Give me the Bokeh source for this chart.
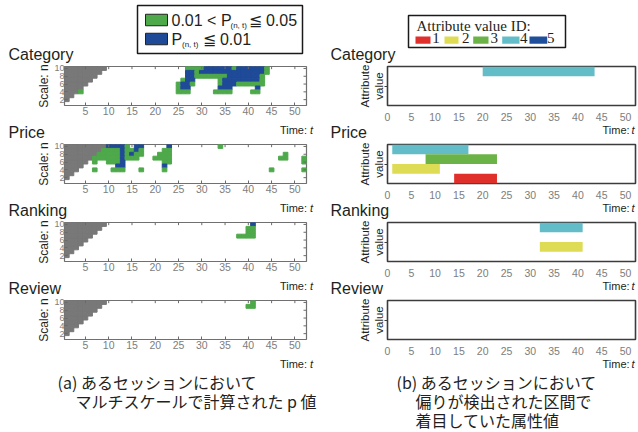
from bokeh.plotting import figure
from bokeh.models import Range1d, FixedTicker, LinearAxis, ColumnDataSource
from bokeh.layouts import column, row
from bokeh.embed import file_html
from bokeh.resources import INLINE
from bokeh.core.properties import value

# ---------------- data ----------------
PANELS = ["Category", "Price", "Ranking", "Review"]
SCALES = [1, 2, 3, 4, 5, 6, 7, 8, 9, 10]
GRAY_COLS = [0, 1, 2, 3, 4, 5, 6, 7, 8, 9]   # undefined windows (t < n) per scale n

# significant windows: (scale n, t from, t to, level)  level 1: 0.01<P<=0.05, level 2: P<=0.01
CATEGORY_RUNS = [
    (10, 27, 30, 1), (10, 31, 36, 2), (10, 37, 37, 1), (10, 38, 43, 2), (10, 44, 44, 1),
    (9, 27, 28, 2), (9, 29, 29, 1), (9, 30, 43, 2), (9, 44, 44, 1),
    (8, 27, 28, 2), (8, 29, 35, 1), (8, 36, 42, 2), (8, 43, 43, 1),
    (7, 26, 26, 1), (7, 27, 28, 2), (7, 34, 34, 1), (7, 35, 42, 2), (7, 43, 43, 1),
    (6, 25, 25, 1), (6, 26, 27, 2), (6, 28, 28, 1), (6, 34, 34, 1), (6, 35, 37, 2), (6, 38, 43, 1),
    (5, 25, 25, 1), (5, 26, 27, 2), (5, 34, 36, 2), (5, 42, 42, 2),
    (4, 4, 4, 1), (4, 25, 27, 1), (4, 33, 36, 1), (4, 41, 42, 1),
]
PRICE_RUNS = [
    (10, 10, 13, 2), (10, 14, 14, 1), (10, 16, 17, 2), (10, 23, 23, 2), (10, 34, 34, 1),
    (9, 9, 12, 1), (9, 13, 13, 2), (9, 14, 15, 1), (9, 16, 16, 2), (9, 17, 17, 1), (9, 22, 23, 1),
    (8, 8, 12, 1), (8, 13, 13, 2), (8, 14, 14, 1), (8, 15, 15, 2), (8, 16, 17, 1), (8, 21, 23, 1), (8, 48, 48, 1),
    (7, 7, 12, 1), (7, 13, 13, 2), (7, 14, 16, 1), (7, 20, 23, 1), (7, 47, 48, 1), (7, 52, 52, 1),
    (6, 7, 7, 1), (6, 10, 12, 1), (6, 13, 13, 2), (6, 22, 23, 1), (6, 52, 52, 1),
    (5, 12, 13, 2), (5, 22, 22, 2),
    (4, 7, 7, 1), (4, 11, 13, 1), (4, 17, 17, 1), (4, 22, 22, 1), (4, 45, 45, 1), (4, 52, 52, 1),
]
RANKING_RUNS = [(10, 41, 41, 2), (9, 40, 41, 1), (8, 40, 41, 1), (7, 38, 41, 1)]
REVIEW_RUNS = [(10, 41, 41, 1), (9, 40, 41, 1)]
RUNS = [CATEGORY_RUNS, PRICE_RUNS, RANKING_RUNS, REVIEW_RUNS]

# attribute value intervals: (attribute value ID, t start, t end)
CATEGORY_BARS = [(4, 20, 43.5)]
PRICE_BARS = [(4, 1, 17), (3, 8, 23), (2, 1, 11), (1, 14, 23)]
RANKING_BARS = [(4, 32, 41), (2, 32, 41)]
REVIEW_BARS = []
BARS = [CATEGORY_BARS, PRICE_BARS, RANKING_BARS, REVIEW_BARS]

ATTR_IDS = [1, 2, 3, 4, 5]
X_TICKS_LEFT = [5, 10, 15, 20, 25, 30, 35, 40, 45, 50]
Y_TICKS_LEFT = [2, 4, 6, 8, 10]
X_TICKS_RIGHT = [0, 5, 10, 15, 20, 25, 30, 35, 40, 45, 50]
SIG_LEGEND = [("0.01 < P", "(n, t)", "≦ 0.05"), ("P", "(n, t)", "≦ 0.01")]
CAPTION_A = ["(a) あるセッションにおいて", "マルチスケールで計算された p 値"]
CAPTION_B = ["(b) あるセッションにおいて", "偏りが検出された区間で", "着目していた属性値"]

# ---------------- style ----------------
GREEN = "#4ea94a"
BLUE = "#1f4a98"
GRAY = "#787878"
ATTR_COLORS = {1: "#e0302c", 2: "#dedb55", 3: "#6cb347", 4: "#63bdc8", 5: "#1f4e9b"}
TXT = "#231f20"
TICK_TXT = "#7d7d7d"
SANS = "Liberation Sans"
SERIF = "Liberation Serif"
CJK = "Noto Sans CJK JP"

PANEL_H = 60        # 3 px top border, 44 px frame, 13 px bottom border
LX = (0.5, 52.5)
LY = (0.5, 10.5)
RX = (0, 52.1)
RY = (0, 4)


def canvas_fig(w, h):
    p = figure(width=w, height=h, x_range=Range1d(0, w), y_range=Range1d(h, 0),
               output_backend="svg", toolbar_location=None, x_axis_type=None, y_axis_type=None,
               min_border=0)
    p.outline_line_color = None
    p.background_fill_color = "white"
    p.border_fill_color = "white"
    return p


def panel_fig(xr, yr, bl, br):
    p = figure(width=319, height=PANEL_H, x_range=Range1d(*xr), y_range=Range1d(*yr),
               output_backend="svg", toolbar_location=None,
               x_axis_type=None, y_axis_type=None,
               min_border_left=bl, min_border_right=br, min_border_top=3, min_border_bottom=13)
    p.background_fill_color = "white"
    p.border_fill_color = "white"
    return p


def make_left(i):
    p = panel_fig(LX, LY, 64, 13)
    p.outline_line_color = "#707070"
    p.outline_line_width = 1.2

    xs, ys, cs = [], [], []
    for n, g in zip(SCALES, GRAY_COLS):
        for t in range(1, g + 1):
            xs.append(t); ys.append(n); cs.append(GRAY)
    for n, t0, t1, lev in RUNS[i]:
        for t in range(t0, t1 + 1):
            xs.append(t); ys.append(n); cs.append(GREEN if lev == 1 else BLUE)
    src = ColumnDataSource(dict(x=xs, y=ys, c=cs))
    p.rect(x="x", y="y", width=1, height=1, fill_color="c", line_color="c", line_width=1, source=src)

    # inward ticks on the top and right frame edges
    tl_x = 3 * (LX[1] - LX[0]) / 242
    tl_y = 3 * (LY[1] - LY[0]) / 44
    p.segment(x0=X_TICKS_LEFT, y0=[LY[1]] * len(X_TICKS_LEFT), x1=X_TICKS_LEFT,
              y1=[LY[1] - tl_y] * len(X_TICKS_LEFT), line_color="#6a6a6a", line_width=1)
    p.segment(x0=[LX[1]] * len(Y_TICKS_LEFT), y0=Y_TICKS_LEFT, x1=[LX[1] - tl_x] * len(Y_TICKS_LEFT),
              y1=Y_TICKS_LEFT, line_color="#6a6a6a", line_width=1)

    common = dict(minor_tick_line_color=None, axis_line_color=None,
                  major_tick_line_color="#6a6a6a", major_tick_in=3, major_tick_out=0,
                  major_label_text_color=TICK_TXT, major_label_text_font=SANS)
    xb = LinearAxis(ticker=FixedTicker(ticks=X_TICKS_LEFT), major_label_text_font_size="10.5px",
                    major_label_standoff=1, **common)
    p.add_layout(xb, "below")
    yl = LinearAxis(ticker=FixedTicker(ticks=Y_TICKS_LEFT), major_label_text_font_size="9px",
                    major_label_standoff=0, axis_label="Scale: n", axis_label_standoff=0,
                    axis_label_text_font=SANS, axis_label_text_font_size="12px",
                    axis_label_text_font_style="normal", axis_label_text_color=TXT,
                    axis_label_text_line_height=1.0, **common)
    p.add_layout(yl, "left")
    return p


def make_right(i):
    p = panel_fig(RX, RY, 68, 3)
    p.outline_line_color = "#3c3c3c"
    p.outline_line_width = 1.6

    bars = BARS[i]
    src = ColumnDataSource(dict(
        left=[b[1] for b in bars], right=[b[2] for b in bars],
        bottom=[b[0] - 1 for b in bars], top=[b[0] for b in bars],
        c=[ATTR_COLORS[b[0]] for b in bars]))
    p.quad(left="left", right="right", bottom="bottom", top="top", fill_color="c",
           line_color=None, source=src)

    xb = LinearAxis(ticker=FixedTicker(ticks=X_TICKS_RIGHT), minor_tick_line_color=None,
                    axis_line_color=None, major_tick_line_color=None,
                    major_label_text_color=TICK_TXT, major_label_text_font=SANS,
                    major_label_text_font_size="10.5px", major_label_standoff=1)
    p.add_layout(xb, "below")
    yl = LinearAxis(ticker=FixedTicker(ticks=[2]), minor_tick_line_color=None,
                    axis_line_color=None, major_tick_line_color="#3c3c3c",
                    major_tick_in=0, major_tick_out=3, major_label_text_color=None,
                    major_label_text_font_size="8px", major_label_standoff=-5,
                    axis_label="Attribute\nvalue", axis_label_standoff=0,
                    axis_label_text_font=SANS, axis_label_text_font_size="11.5px",
                    axis_label_text_font_style="normal", axis_label_text_color=TXT,
                    axis_label_text_line_height=1.1)
    p.add_layout(yl, "left")
    return p


def time_label(p, y):
    # "Time: t" under both columns (y = middle of the text)
    kw = dict(text_font=value(SANS), text_font_size="11px", text_baseline="middle", text_color=TXT)
    p.text(x=[306.5], y=[y], text=["Time:"], text_align="right", **kw)
    p.text(x=[309.5], y=[y], text=["t"], text_font_style="italic", text_align="left", **kw)
    p.text(x=[602], y=[y], text=["Time:"], text_align="left", **kw)
    p.text(x=[631], y=[y], text=["t"], text_font_style="italic", text_align="left", **kw)


def titles(p, name, y):
    p.text(x=[8, 330], y=[y, y], text=[name, name], text_font=value(SANS), text_font_size="16px",
           text_baseline="middle", text_color=TXT)


# ---------------- header (legends + first titles) ----------------
hdr = canvas_fig(638, 63)
hdr.quad(left=[137], right=[302], top=[5], bottom=[53], fill_color=None,
         line_color="#1a1a1a", line_width=1.5)
row_y = [19.5, 38.5]
hdr.quad(left=[145, 145], right=[167, 167], top=[y - 5.75 for y in row_y],
         bottom=[y + 5.75 for y in row_y], fill_color=[GREEN, BLUE], line_color="#222", line_width=1)
hdr.text(x=[171, 171], y=row_y, text=[s[0] for s in SIG_LEGEND], text_font=value(SANS),
         text_font_size="16px", text_baseline="middle", text_color=TXT)
hdr.text(x=[230, 181.5], y=[y + 5.5 for y in row_y], text=[s[1] for s in SIG_LEGEND],
         text_font=value(SANS), text_font_size="8px", text_baseline="middle", text_color=TXT)
hdr.text(x=[248, 202], y=row_y, text=[s[2] for s in SIG_LEGEND], text_font=value(SANS),
         text_font_size="16px", text_baseline="middle", text_color=TXT)

hdr.quad(left=[408], right=[565], top=[15], bottom=[47], fill_color=None,
         line_color="#1a1a1a", line_width=1.5)
hdr.text(x=[416], y=[25], text=["Attribute value ID:"], text_font=value(SERIF),
         text_font_size="15px", text_baseline="middle", text_color=TXT)
sw_left = [415, 444, 472.7, 501.7, 529]
sw_right = [430, 458, 488, 519, 546.7]
hdr.quad(left=sw_left, right=sw_right, top=[36] * 5, bottom=[43.3] * 5,
         fill_color=[ATTR_COLORS[a] for a in ATTR_IDS], line_color=None)
hdr.text(x=[435.5, 465.3, 493.7, 523.3, 550.3], y=[37.5] * 5, text=[str(a) for a in ATTR_IDS],
         text_font=value(SERIF), text_font_size="15px", text_align="center",
         text_baseline="middle", text_color=TXT)
titles(hdr, PANELS[0], 53.5)

# ---------------- strips between panels ----------------
strips = []
for name in PANELS[1:]:
    s = canvas_fig(638, 18)
    time_label(s, 6.3)
    titles(s, name, 9)
    strips.append(s)

s4 = canvas_fig(638, 74)
time_label(s4, 6.3)
s4.text(x=[57, 75], y=[24, 43], text=CAPTION_A, text_font=value(CJK), text_font_size="16px",
        text_baseline="middle", text_color=TXT)
s4.text(x=[396, 415, 415], y=[24, 43, 62], text=CAPTION_B, text_font=value(CJK),
        text_font_size="16px", text_baseline="middle", text_color=TXT)

rows = [row(make_left(i), make_right(i), spacing=0) for i in range(4)]
layout = column(hdr, rows[0], strips[0], rows[1], strips[1], rows[2], strips[2], rows[3], s4,
                spacing=0)

open("out.html", "w").write(file_html(layout, INLINE, "chart"))
